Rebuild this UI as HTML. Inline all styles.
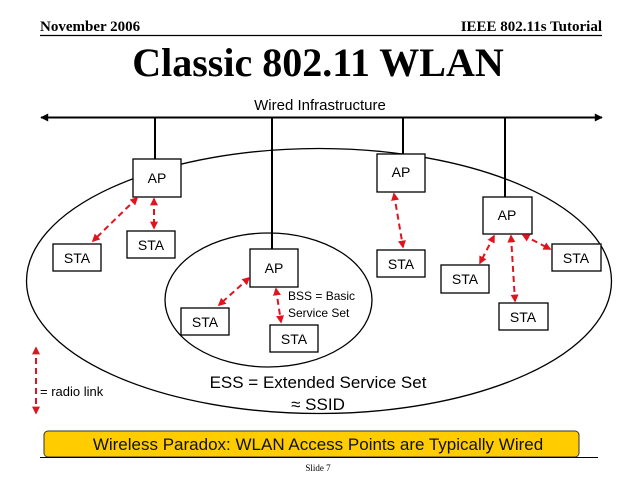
<!DOCTYPE html>
<html><head><style>
html,body{margin:0;padding:0;background:#fff;}
svg{display:block;}
</style></head><body>
<svg width="638" height="479" viewBox="0 0 638 479" xmlns="http://www.w3.org/2000/svg">
<defs>
<marker id="ra" viewBox="0 0 10 10" refX="8" refY="5" markerWidth="4" markerHeight="4" orient="auto-start-reverse"><path d="M0,0 L10,5 L0,10 z" fill="#e0141e"/></marker>
<marker id="ba" viewBox="0 0 10 10" refX="9" refY="5" markerWidth="5" markerHeight="4" orient="auto-start-reverse"><path d="M0,0 L10,5 L0,10 z" fill="#000"/></marker>
</defs>
<g font-family="Liberation Serif, serif" font-weight="bold">
<text x="40" y="31" font-size="15">November 2006</text>
<text x="602" y="31" font-size="15" text-anchor="end">IEEE 802.11s Tutorial</text>
<text x="318" y="76" font-size="40" text-anchor="middle">Classic 802.11 WLAN</text>
</g>
<line x1="40" y1="35.5" x2="602" y2="35.5" stroke="#000" stroke-width="1.2"/>
<g font-family="Liberation Sans, sans-serif" fill="#000">
<text x="320" y="110" font-size="15" text-anchor="middle">Wired Infrastructure</text>
</g>
<line x1="41" y1="117.5" x2="602" y2="117.5" stroke="#000" stroke-width="2" marker-start="url(#ba)" marker-end="url(#ba)"/>
<g stroke="#000" stroke-width="2">
<line x1="155" y1="117" x2="155" y2="160"/>
<line x1="272" y1="117" x2="272" y2="250"/>
<line x1="403" y1="117" x2="403" y2="155"/>
<line x1="505" y1="117" x2="505" y2="197"/>
</g>
<ellipse cx="319" cy="281" rx="292.5" ry="132.5" fill="none" stroke="#000" stroke-width="1.3"/>
<ellipse cx="268.5" cy="300" rx="103.5" ry="67" fill="none" stroke="#000" stroke-width="1.3"/>
<g fill="#fff" stroke="#000" stroke-width="1.3">
<rect x="133" y="159" width="48" height="38"/>
<rect x="53" y="244" width="48" height="27"/>
<rect x="127" y="231" width="48" height="27"/>
<rect x="250" y="249" width="48" height="38"/>
<rect x="181" y="308" width="48" height="27"/>
<rect x="270" y="325" width="48" height="27"/>
<rect x="377" y="154" width="48" height="38"/>
<rect x="377" y="250" width="48" height="27"/>
<rect x="483" y="197" width="49" height="37"/>
<rect x="441" y="265" width="48" height="28"/>
<rect x="499" y="303" width="49" height="27"/>
<rect x="552" y="244" width="49" height="27"/>
</g>
<g font-family="Liberation Sans, sans-serif" font-size="14" text-anchor="middle" fill="#000">
<text x="157" y="183">AP</text>
<text x="77" y="263">STA</text>
<text x="151" y="250">STA</text>
<text x="274" y="273">AP</text>
<text x="205" y="327">STA</text>
<text x="294" y="344">STA</text>
<text x="401" y="177">AP</text>
<text x="401" y="269">STA</text>
<text x="507" y="220">AP</text>
<text x="465" y="284">STA</text>
<text x="523" y="322">STA</text>
<text x="576" y="263">STA</text>
</g>
<g font-family="Liberation Sans, sans-serif" font-size="12" fill="#000">
<text x="288" y="300">BSS = Basic</text>
<text x="288" y="317">Service Set</text>
<text x="40" y="396" font-size="13">= radio link</text>
</g>
<g stroke="#e0141e" stroke-width="2" stroke-dasharray="6,4" marker-start="url(#ra)" marker-end="url(#ra)">
<line x1="137" y1="198" x2="93" y2="241"/>
<line x1="154" y1="199" x2="154" y2="228"/>
<line x1="249" y1="278" x2="219" y2="305"/>
<line x1="276" y1="289" x2="281" y2="322"/>
<line x1="394" y1="194" x2="403" y2="247"/>
<line x1="494" y1="236" x2="480" y2="263"/>
<line x1="511" y1="236" x2="515" y2="301"/>
<line x1="523" y1="235" x2="550" y2="249"/>
<line x1="36" y1="348" x2="36" y2="413"/>
</g>
<g font-family="Liberation Sans, sans-serif" font-size="17" text-anchor="middle" fill="#000">
<text x="318" y="388">ESS = Extended Service Set</text>
<text x="318" y="410">≈ SSID</text>
</g>
<rect x="44" y="431" width="535" height="26" rx="4" fill="#ffcc00" stroke="#333" stroke-width="1"/>
<text x="318" y="450" font-family="Liberation Sans, sans-serif" font-size="17" text-anchor="middle" fill="#111">Wireless Paradox: WLAN Access Points are Typically Wired</text>
<line x1="40" y1="457.5" x2="598" y2="457.5" stroke="#000" stroke-width="1"/>
<text x="318" y="471" font-family="Liberation Serif, serif" font-size="9" text-anchor="middle">Slide 7</text>
</svg>
</body></html>
